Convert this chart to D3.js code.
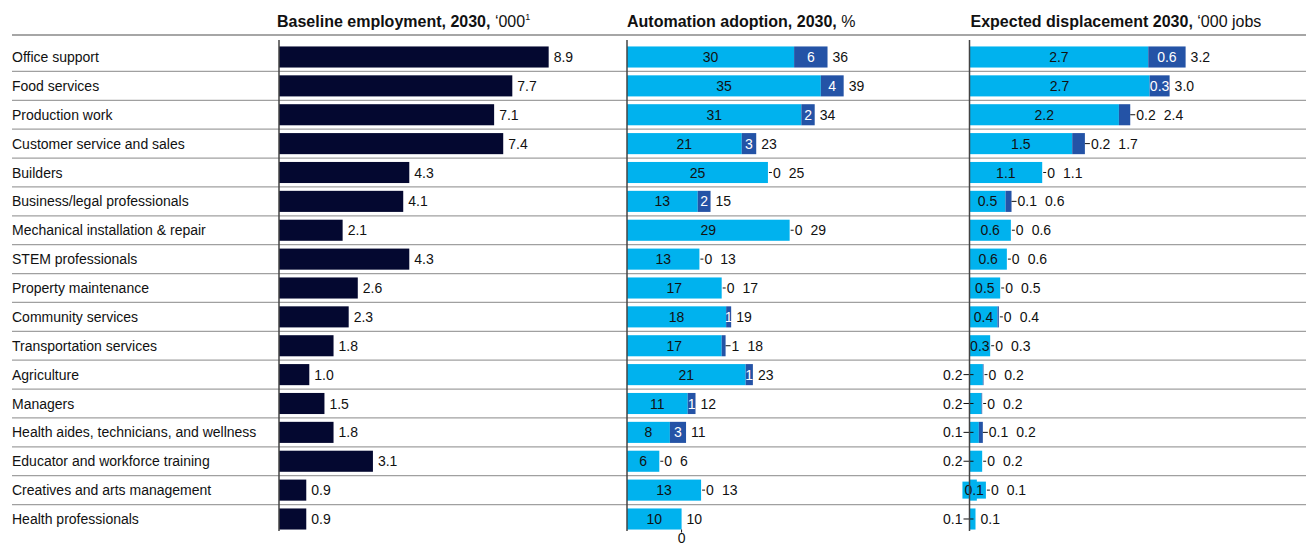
<!DOCTYPE html>
<html>
<head>
<meta charset="utf-8">
<script src="https://cdn.jsdelivr.net/npm/d3@7/dist/d3.min.js"></script>
<style>
  html, body { margin: 0; padding: 0; background: #fff; }
  svg { display: block; font-family: "Liberation Sans", Arial, Helvetica, sans-serif; }
</style>
</head>
<body>
<svg id="chart" width="1306" height="545"></svg>
<script>
// Occupational categories, top to bottom
const categories = [
  "Office support",
  "Food services",
  "Production work",
  "Customer service and sales",
  "Builders",
  "Business/legal professionals",
  "Mechanical installation & repair",
  "STEM professionals",
  "Property maintenance",
  "Community services",
  "Transportation services",
  "Agriculture",
  "Managers",
  "Health aides, technicians, and wellness",
  "Educator and workforce training",
  "Creatives and arts management",
  "Health professionals"
];

// Baseline employment, 2030, '000
const baselineEmployment = [8.9, 7.7, 7.1, 7.4, 4.3, 4.1, 2.1, 4.3, 2.6, 2.3, 1.8, 1.0, 1.5, 1.8, 3.1, 0.9, 0.9];

// Automation adoption, 2030, % : base share and additional share
const adoptionBase = [30, 34.8, 31.3, 20.6, 25.3, 12.7, 29.2, 13, 17, 17.8, 17.0, 21.3, 10.9, 7.7, 5.8, 13.3, 9.8];
const adoptionExtra = [6, 4.1, 2.4, 2.6, 0, 2.3, 0, 0, 0, 0.9, 0.7, 1.3, 1.4, 2.9, 0, 0, 0];

// Expected displacement 2030, '000 jobs : base and additional
const displacementBase = [2.68, 2.7, 2.24, 1.54, 1.09, 0.54, 0.62, 0.56, 0.46, 0.42, 0.31, 0.2, 0.18, 0.14, 0.19, 0.11, 0.09];
const displacementExtra = [0.56, 0.3, 0.17, 0.19, 0, 0.09, 0, 0, 0, 0.02, 0, 0.01, 0.01, 0.06, 0, 0, 0];

// Column headings: [bold part, regular part, superscript]
const titleBaseline = ["Baseline employment, 2030,", " \u2018000", "1"];
const titleAdoption = ["Automation adoption, 2030,", " %", ""];
const titleDisplacement = ["Expected displacement 2030,", " \u2018000 jobs", ""];

// Rows whose small base label sits on a filled badge
const badgeRows = ["Creatives and arts management"];

const NAVY = "#040830";
const CYAN = "#00b2ee";
const BLUE = "#2453a6";
const FONT = 14;

const svg = d3.select("#chart");
const W = 1306;

const y = d3.scaleBand()
  .domain(categories)
  .range([42.56, 42.56 + 28.875 * categories.length])
  .paddingInner(0.27)
  .paddingOuter(0.135);

const xBase = d3.scaleLinear().domain([0, 10]).range([279, 582]);
const xAdopt = d3.scaleLinear().domain([0, 40]).range([627, 849.8]);
const xDisp = d3.scaleLinear().domain([0, 3]).range([969.5, 1169.6]);

// header rule
svg.append("line")
  .attr("x1", 12).attr("x2", W).attr("y1", 35).attr("y2", 35)
  .attr("stroke", "#a6a6a6").attr("stroke-width", 2);

// row separators
const step = y.step();
const y0 = y.range()[0];
svg.append("g").selectAll("line")
  .data(d3.range(1, categories.length))
  .join("line")
  .attr("x1", 12).attr("x2", W)
  .attr("y1", i => y0 + i * step).attr("y2", i => y0 + i * step)
  .attr("stroke", "#a0a0a0").attr("stroke-width", 1.2);

// category labels
svg.append("g").selectAll("text")
  .data(categories)
  .join("text")
  .attr("x", 12)
  .attr("y", d => y(d) + y.bandwidth() / 2)
  .attr("dy", "0.36em")
  .attr("font-size", FONT)
  .attr("fill", "#111")
  .text(d => d);

// column titles
function title(x, parts) {
  const t = svg.append("text").attr("x", x).attr("y", 27).attr("font-size", 16).attr("fill", "#111");
  t.append("tspan").attr("font-weight", "bold").text(parts[0]);
  t.append("tspan").text(parts[1]);
  if (parts[2]) t.append("tspan").attr("font-size", 9).attr("dy", -7).text(parts[2]);
}
title(xBase(0) - 2, titleBaseline);
title(xAdopt(0), titleAdoption);
title(xDisp(0) + 1, titleDisplacement);

// baseline employment bars
const g1 = svg.append("g");
g1.selectAll("rect")
  .data(categories)
  .join("rect")
  .attr("x", xBase(0))
  .attr("y", d => y(d))
  .attr("height", y.bandwidth())
  .attr("width", (d, i) => xBase(baselineEmployment[i]) - xBase(0))
  .attr("fill", NAVY);
g1.selectAll("text")
  .data(categories)
  .join("text")
  .attr("x", (d, i) => xBase(baselineEmployment[i]) + 5)
  .attr("y", d => y(d) + y.bandwidth() / 2)
  .attr("dy", "0.36em")
  .attr("font-size", FONT)
  .attr("fill", "#111")
  .text((d, i) => d3.format(".1f")(baselineEmployment[i]));

function textWidth(str) {
  const t = svg.append("text").attr("font-size", FONT).text(str);
  const w = t.node().getComputedTextLength();
  t.remove();
  return w;
}

// stacked column with base, extra and total labels
function stacked(x, base, extra, fmt, zeroBelowLast, showLastZero) {
  const g = svg.append("g");
  const x0 = x(0);
  const n = categories.length;
  categories.forEach((cat, i) => {
    const top = y(cat), h = y.bandwidth(), cy = top + h / 2;
    const x1 = x(base[i]);
    const x2 = x(base[i] + extra[i]);
    g.append("rect").attr("x", x0).attr("y", top).attr("width", x1 - x0).attr("height", h).attr("fill", CYAN);
    if (extra[i] > 0) {
      g.append("rect").attr("x", x1).attr("y", top).attr("width", x2 - x1).attr("height", h).attr("fill", BLUE);
    }
    // end of the drawn marks; labels to the right start after it
    let edge = x2;
    // base label
    const bl = fmt(base[i]);
    const bw = textWidth(bl);
    if (x1 - x0 >= bw - 3) {
      g.append("text").attr("x", (x0 + x1) / 2).attr("y", cy).attr("dy", "0.36em")
        .attr("text-anchor", "middle").attr("font-size", FONT).attr("fill", "#111").text(bl);
    } else if (badgeRows.includes(cat)) {
      const cx = (x0 + x1) / 2 + 1;
      g.append("rect").attr("x", cx - bw / 2 - 2).attr("y", cy - 8.5).attr("width", bw + 4).attr("height", 17).attr("fill", CYAN);
      g.append("text").attr("x", cx).attr("y", cy).attr("dy", "0.36em")
        .attr("text-anchor", "middle").attr("font-size", FONT).attr("fill", "#111").text(bl);
      edge = Math.max(edge, cx + bw / 2 + 2);
    } else {
      g.append("line").attr("x1", x0 - 6).attr("x2", x0 + 4).attr("y1", cy).attr("y2", cy)
        .attr("stroke", "#111").attr("stroke-width", 1);
      g.append("text").attr("x", x0 - 7).attr("y", cy).attr("dy", "0.36em")
        .attr("text-anchor", "end").attr("font-size", FONT).attr("fill", "#111").text(bl);
    }
    // extra label
    const el = fmt(extra[i]);
    const ew = textWidth(el);
    let after = edge + 5;
    if (el === "0") {
      if (i === n - 1 && zeroBelowLast) {
        g.append("line").attr("x1", x2).attr("x2", x2).attr("y1", top + h).attr("y2", top + h + 3)
          .attr("stroke", "#111").attr("stroke-width", 1);
        g.append("text").attr("x", x2).attr("y", top + h + 13)
          .attr("text-anchor", "middle").attr("font-size", FONT).attr("fill", "#111").text(el);
      } else if (!(i === n - 1 && !showLastZero)) {
        g.append("line").attr("x1", edge + 1).attr("x2", edge + 4).attr("y1", cy).attr("y2", cy)
          .attr("stroke", "#111").attr("stroke-width", 1);
        g.append("text").attr("x", edge + 5).attr("y", cy).attr("dy", "0.36em")
          .attr("font-size", FONT).attr("fill", "#111").text(el);
        after = edge + 5 + ew + 8;
      }
    } else if (x2 - x1 >= ew - 3) {
      g.append("text").attr("x", (x1 + x2) / 2).attr("y", cy).attr("dy", "0.36em")
        .attr("text-anchor", "middle").attr("font-size", FONT).attr("fill", "#fff").text(el);
    } else {
      g.append("line").attr("x1", x2).attr("x2", x2 + 5).attr("y1", cy).attr("y2", cy)
        .attr("stroke", "#111").attr("stroke-width", 1);
      g.append("text").attr("x", x2 + 6).attr("y", cy).attr("dy", "0.36em")
        .attr("font-size", FONT).attr("fill", "#111").text(el);
      after = x2 + 6 + ew + 8;
    }
    // total label
    g.append("text").attr("x", after).attr("y", cy).attr("dy", "0.36em")
      .attr("font-size", FONT).attr("fill", "#111").text(fmt(base[i] + extra[i]));
  });
}

const fmtInt = v => { const r = Math.round(v); return String(r); };
const fmtOne = v => { const s = (Math.round(v * 10) / 10).toFixed(1); return s === "0.0" ? "0" : s; };

stacked(xAdopt, adoptionBase, adoptionExtra, fmtInt, true, true);
stacked(xDisp, displacementBase, displacementExtra, fmtOne, false, false);

// column baselines
[xBase(0), xAdopt(0), xDisp(0)].forEach(xv => {
  svg.append("line").attr("x1", xv).attr("x2", xv).attr("y1", 40).attr("y2", 531)
    .attr("stroke", "#444").attr("stroke-width", 1.5);
});
</script>
</body>
</html>
